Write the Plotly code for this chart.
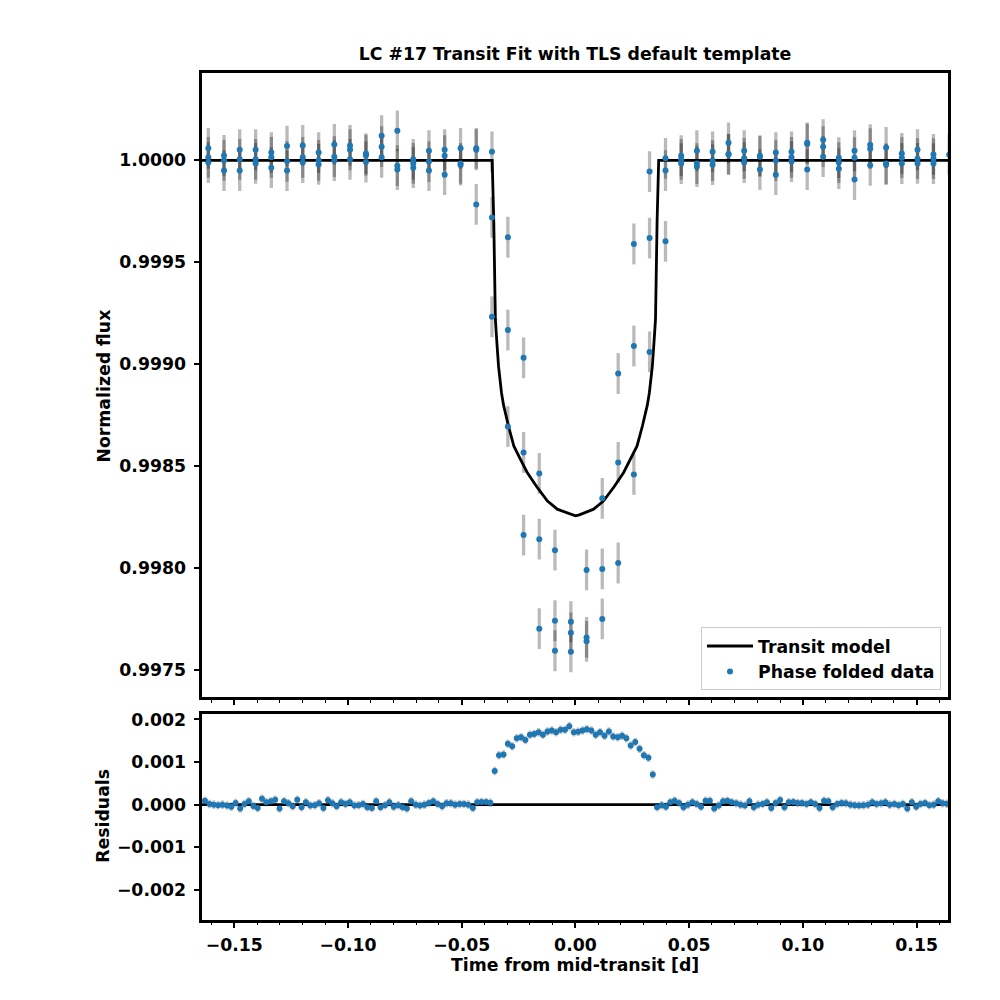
import plotly.graph_objects as go

# phase-folded data: one point per bin from each of the three transits
bin_time = [-0.1614, -0.1545, -0.1476, -0.1406, -0.1337, -0.1268, -0.1199, -0.1129,
            -0.1060, -0.0991, -0.0921, -0.0852, -0.0783, -0.0713, -0.0644, -0.0575,
            -0.0505, -0.0436, -0.0367, -0.0297, -0.0228, -0.0159, -0.0090, -0.0020,
            0.0049, 0.0118, 0.0188, 0.0257, 0.0326, 0.0396, 0.0465, 0.0534,
            0.0603, 0.0673, 0.0742, 0.0811, 0.0881, 0.0950, 0.1019, 0.1089,
            0.1158, 0.1227, 0.1296, 0.1366, 0.1435, 0.1504, 0.1574, 0.1643]

flux_transit_1 = [1.000059, 1.000024, 1.000052, 1.000052, 1.000038, 1.000070, 1.000073, 1.000038,
                  1.000078, 1.000073, 1.000033, 1.000121, 1.000145, 1.000005, 1.000047, 1.000052,
                  1.000059, 1.000059, 1.000042, 0.999623, 0.999032, 0.998465, 0.998089, 0.997738,
                  0.997992, 0.998343, 0.998955, 0.999590, 0.999945, 1.000010, 1.000023, 1.000047,
                  1.000042, 1.000086, 1.000047, 1.000023, 1.000038, 1.000042, 1.000086, 1.000101,
                  1.000013, 1.000047, 1.000077, 1.000063, 1.000013, 1.000052, 1.000008, 1.000028]

flux_transit_2 = [1.000015, 0.999950, 1.000005, 1.000005, 1.000015, 0.999950, 1.000015, 0.999980,
                  1.000018, 1.000052, 0.999992, 1.000067, 0.999974, 0.999985, 0.999994, 1.000023,
                  0.999985, 1.000052, 0.999720, 0.999168, 0.998568, 0.998143, 0.997743, 0.997684,
                  0.997661, 0.997997, 0.998519, 0.999090, 0.999619, 0.999950, 0.999984, 0.999984,
                  0.999999, 1.000031, 0.999989, 1.000018, 0.999999, 0.999994, 1.000080, 1.000067,
                  0.999989, 1.000013, 1.000057, 0.999984, 0.999984, 1.000008, 0.999984, None]

flux_transit_3 = [0.999989, 1.000000, 0.999950, 0.999985, 0.999964, 0.999995, 0.999989, 1.000000,
                  0.999999, 1.000005, 1.000024, 1.000015, 0.999955, 0.999964, 0.999950, 0.999930,
                  0.999977, 0.999784, 0.999233, 0.998695, 0.998163, 0.997704, 0.997596, 0.997591,
                  0.997642, 0.997752, 0.998026, 0.998460, 0.999061, 0.999603, 1.000005, 0.999969,
                  0.999979, 1.000029, 1.000010, 0.999955, 0.999930, 1.000015, 0.999955, 1.000018,
                  0.999959, 0.999906, 0.999976, 0.999979, 1.000034, 0.999985, 1.000029, None]

flux_err = 0.0001

# TLS default template model
model_time = [-0.1660, -0.0366, -0.0359, -0.0352, -0.0345, -0.0338, -0.0325, -0.0316,
              -0.0295, -0.0271, -0.0240, -0.0212, -0.0170, -0.0123, -0.0080, -0.0035, -0.0017,
              0.0000, 0.0017, 0.0035, 0.0080, 0.0123, 0.0170, 0.0212, 0.0240, 0.0271,
              0.0295, 0.0316, 0.0325, 0.0338, 0.0345, 0.0352, 0.0359, 0.0366, 0.1660]
model_flux = [1.0, 1.0, 0.99970, 0.99922, 0.99910, 0.99899, 0.99886, 0.99880,
              0.99870, 0.99860, 0.99853, 0.99847, 0.99840, 0.99833, 0.99829, 0.99827, 0.998262,
              0.998257, 0.998262, 0.99827, 0.99829, 0.99833, 0.99840, 0.99847, 0.99853, 0.99860,
              0.99870, 0.99880, 0.99886, 0.99899, 0.99910, 0.99922, 0.99970, 1.0, 1.0]

# residuals (ppm)
resid_time = [-0.1629, -0.1609, -0.1590, -0.1571, -0.1552, -0.1532, -0.1513, -0.1494, -0.1474, -0.1455,
              -0.1436, -0.1416, -0.1397, -0.1378, -0.1359, -0.1339, -0.1320, -0.1301, -0.1281, -0.1262,
              -0.1243, -0.1223, -0.1204, -0.1185, -0.1166, -0.1146, -0.1127, -0.1108, -0.1088, -0.1069,
              -0.1050, -0.1030, -0.1011, -0.0992, -0.0972, -0.0953, -0.0934, -0.0915, -0.0895, -0.0876,
              -0.0857, -0.0837, -0.0818, -0.0799, -0.0779, -0.0760, -0.0741, -0.0722, -0.0702, -0.0683,
              -0.0664, -0.0644, -0.0625, -0.0606, -0.0586, -0.0567, -0.0548, -0.0529, -0.0509, -0.0490,
              -0.0471, -0.0451, -0.0432, -0.0413, -0.0393, -0.0374, -0.0355, -0.0336, -0.0316, -0.0297,
              -0.0278, -0.0258, -0.0239, -0.0220, -0.0200, -0.0181, -0.0162, -0.0143, -0.0123, -0.0104,
              -0.0085, -0.0065, -0.0046, -0.0027, -0.0007, 0.0012, 0.0031, 0.0050, 0.0070, 0.0089,
              0.0108, 0.0128, 0.0147, 0.0166, 0.0186, 0.0205, 0.0224, 0.0243, 0.0263, 0.0282,
              0.0301, 0.0321, 0.0340, 0.0359, 0.0379, 0.0398, 0.0417, 0.0436, 0.0456, 0.0475,
              0.0494, 0.0514, 0.0533, 0.0552, 0.0572, 0.0591, 0.0610, 0.0630, 0.0649, 0.0668,
              0.0687, 0.0707, 0.0726, 0.0745, 0.0765, 0.0784, 0.0803, 0.0823, 0.0842, 0.0861,
              0.0880, 0.0900, 0.0919, 0.0938, 0.0958, 0.0977, 0.0996, 0.1016, 0.1035, 0.1054,
              0.1073, 0.1093, 0.1112, 0.1131, 0.1151, 0.1170, 0.1189, 0.1209, 0.1228, 0.1247,
              0.1266, 0.1286, 0.1305, 0.1324, 0.1344, 0.1363, 0.1382, 0.1402, 0.1421, 0.1440,
              0.1459, 0.1479, 0.1498, 0.1517, 0.1537, 0.1556, 0.1575, 0.1595, 0.1614, 0.1633]

resid_pre_ppm = [93, 16, 0, -16, 0, -23, -47, 39, -93, 16, 78, -31, -78, 140, 54, 78, 116, -93, 78, 31,
                 -39, 116, -62, 54, -23, -16, 31, -78, 101, 31, -39, 54, 16, 54, -23, -16, 16, -62, -78, 78,
                 -62, -16, 54, -47, -16, -62, -93, 78, 0, -23, 0, 39, 78, 16, -39, 31, 31, 0, 16, 16,
                 0, -78, 54, 62, 62, 45]
resid_in_ppm = [790, 1160, 1180, 1430, 1370, 1560, 1580, 1520, 1640, 1660, 1700, 1640, 1720, 1740,
                1700, 1760, 1760, 1840, 1700, 1710, 1740, 1770, 1740, 1640, 1700, 1620, 1720, 1600,
                1580, 1620, 1560, 1390, 1470, 1310, 1160, 1100, 710]
resid_post_ppm = [-62, -16, -47, 54, 93, 39, -62, 0, 54, 16, -47, 93, 93, -93, -23, 78, 93, 54, 31, 0,
                  -23, 78, -62, 0, 16, 54, -78, 39, 109, -62, 54, 62, 39, 39, 16, 54, 16, -78, 93, 78,
                  -62, 16, 39, 31, 0, -16, -23, -16, 0, 54, 16, 31, 54, 0, 16, -16, 16, -93, 54, -47,
                  16, 39, -16, 0, 78, 31, 20]
resid_err = 0.0001

BLUE = '#1f77b4'
BAR = 'rgba(0,0,0,0.27)'
FONT = dict(family='DejaVu Sans', size=17.3, color='black', weight='bold')

fold_time, fold_flux = [], []
for series in (flux_transit_1, flux_transit_2, flux_transit_3):
    for t, f in zip(bin_time, series):
        if f is not None:
            fold_time.append(t)
            fold_flux.append(f)

resid = [v * 1e-6 for v in resid_pre_ppm + resid_in_ppm + resid_post_ppm]

fig = go.Figure()

fig.add_trace(go.Scatter(
    x=model_time, y=model_flux, mode='lines', name='Transit model',
    line=dict(color='black', width=2.8), xaxis='x', yaxis='y'))

fig.add_trace(go.Scatter(
    x=fold_time, y=fold_flux, mode='markers', showlegend=False, hoverinfo='skip',
    marker=dict(color='rgba(0,0,0,0)', size=1),
    error_y=dict(type='constant', value=flux_err, color=BAR, thickness=3.3, width=0),
    xaxis='x', yaxis='y'))

fig.add_trace(go.Scatter(
    x=fold_time, y=fold_flux, mode='markers', name='Phase folded data',
    marker=dict(color=BLUE, size=6), xaxis='x', yaxis='y'))

fig.add_trace(go.Scatter(
    x=resid_time, y=resid, mode='markers', showlegend=False, hoverinfo='skip',
    marker=dict(color='rgba(0,0,0,0)', size=1),
    error_y=dict(type='constant', value=resid_err, color='rgba(0,0,0,0.22)', thickness=3, width=0),
    xaxis='x2', yaxis='y2'))

fig.add_trace(go.Scatter(
    x=resid_time, y=resid, mode='markers', showlegend=False,
    marker=dict(color=BLUE, size=6), xaxis='x2', yaxis='y2'))

fig.add_shape(type='line', xref='x2 domain', x0=0, x1=1, yref='y2', y0=0, y1=0,
              line=dict(color='black', width=2.8), layer='below')

axis_common = dict(
    showline=True, mirror=True, linewidth=3, linecolor='black',
    showgrid=False, zeroline=False, ticks='outside', ticklen=5, tickwidth=2,
    tickcolor='black', tickfont=FONT,
)
x_common = dict(
    range=[-0.1644, 0.1638], domain=[0.1935, 0.940], tick0=0, dtick=0.05,
    minor=dict(dtick=0.01, ticks='outside', ticklen=2.5, tickwidth=1.3, tickcolor='black'),
    **axis_common
)

fig.update_layout(
    width=1000, height=1000,
    margin=dict(l=0, r=0, t=0, b=0),
    paper_bgcolor='white', plot_bgcolor='white',
    font=FONT,
    title=dict(text='LC #17 Transit Fit with TLS default template', font=FONT,
               x=0.567, xanchor='center', y=0.954, yanchor='middle'),
    xaxis=dict(anchor='y', showticklabels=False, **x_common),
    xaxis2=dict(anchor='y2', matches='x', tickformat='.2f', ticklabelstandoff=2, **x_common),
    yaxis=dict(anchor='x', domain=[0.3118, 0.9385], range=[0.997367, 1.000427],
               tick0=1.0, dtick=0.0005, tickformat='.4f', ticklabelstandoff=4, **axis_common),
    yaxis2=dict(anchor='x2', domain=[0.0885, 0.2955], range=[-0.002706, 0.002136],
                tick0=0, dtick=0.001, tickformat='.3f', ticklabelstandoff=4, **axis_common),
    legend=dict(x=0.933, y=0.319, xanchor='right', yanchor='bottom', font=FONT,
                itemwidth=46,
                bgcolor='rgba(255,255,255,0.8)', bordercolor='#cccccc', borderwidth=1),
    annotations=[
        dict(text='Normalized flux', x=0.096, y=0.624, xref='paper', yref='paper',
             xanchor='center', yanchor='middle', textangle=-90, showarrow=False, font=FONT),
        dict(text='Residuals', x=0.095, y=0.193, xref='paper', yref='paper',
             xanchor='center', yanchor='middle', textangle=-90, showarrow=False, font=FONT),
        dict(text='Time from mid-transit [d]', x=0.567, y=0.043, xref='paper', yref='paper',
             xanchor='center', yanchor='middle', showarrow=False, font=FONT),
    ],
)

fig.write_html('out.html')
